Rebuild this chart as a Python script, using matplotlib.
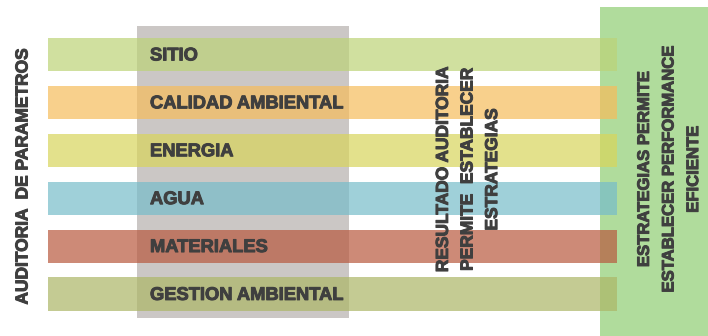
import matplotlib
matplotlib.use("Agg")
import matplotlib.pyplot as plt
import matplotlib.patheffects as pe

# ── datos ────────────────────────────────────────────────────────────────
categorias = ["SITIO", "CALIDAD AMBIENTAL", "ENERGIA", "AGUA", "MATERIALES", "GESTION AMBIENTAL"]
colores    = ["#bcd377", "#f6bc5b", "#d8d55b", "#76bcca", "#b8593e", "#acb666"]
titulo_izq = "AUDITORIA  DE PARAMETROS"
texto_medio = "RESULTADO AUDITORIA\nPERMITE  ESTABLECER\nESTRATEGIAS"
texto_der   = "ESTRATEGIAS PERMITE\nESTABLECER PERFORMANCE\nEFICIENTE"

FAMILIA = "Liberation Sans"
TXT = "#3f3f3f"
GRUESO = [pe.withStroke(linewidth=0.7, foreground=TXT)]

fig = plt.figure(figsize=(7.08, 3.36), dpi=100)
ax = fig.add_axes([0, 0, 1, 1])
ax.set_xlim(0, 708)
ax.set_ylim(5.877, -1.138)
ax.axis("off")

# columna gris y caja verde (fondo)
ax.add_patch(plt.Rectangle((137, -0.595), 212, 6.09, color="#cbc7c5", zorder=1, lw=0))
ax.add_patch(plt.Rectangle((600, -0.99), 120, 7.0, color="#b0dc9c", zorder=1, lw=0))

y = range(len(categorias))
ax.barh(y, 569, left=48, height=0.69, color=colores, alpha=0.7, zorder=2, lw=0)

for i, nombre in enumerate(categorias):
    ax.text(150, i + 0.03, nombre, ha="left", va="center", fontsize=13.2, fontweight="bold",
            color=TXT, family=FAMILIA, zorder=3, path_effects=GRUESO)

ax.text(23, 2.55, titulo_izq, rotation=90, ha="center", va="center", fontsize=12.5,
        fontweight="bold", color=TXT, family=FAMILIA, zorder=3, path_effects=GRUESO)
ax.text(468, 2.4, texto_medio, rotation=90, ha="center", va="center", multialignment="center",
        fontsize=12.5, fontweight="bold", color=TXT, family=FAMILIA, linespacing=1.8,
        zorder=3, path_effects=GRUESO)
ax.text(669, 2.4, texto_der, rotation=90, ha="center", va="center", multialignment="center",
        fontsize=12, fontweight="bold", color=TXT, family=FAMILIA, linespacing=1.8,
        zorder=3, path_effects=GRUESO)

fig.savefig("out.png", dpi=100)
